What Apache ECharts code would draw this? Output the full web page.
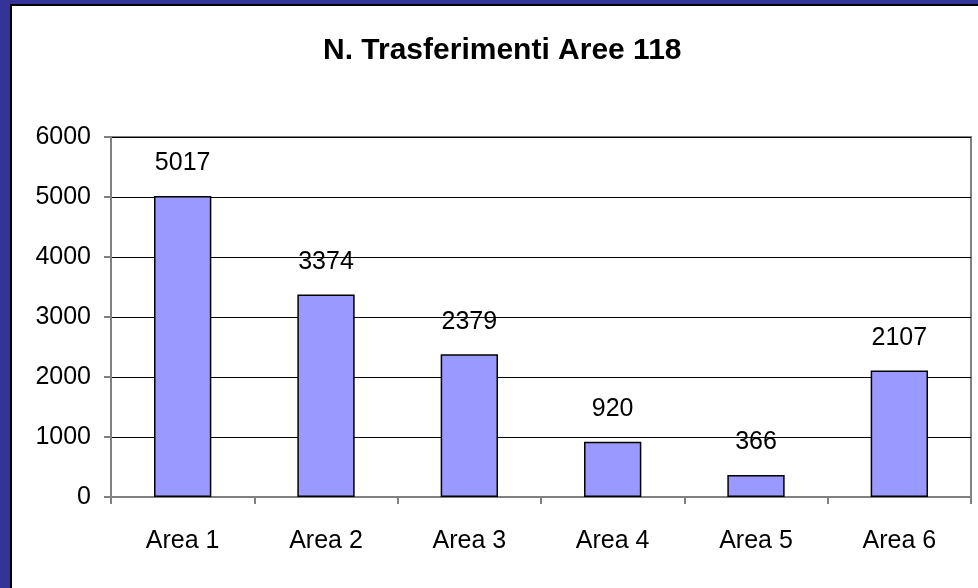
<!DOCTYPE html>
<html><head><meta charset="utf-8">
<script src="https://cdn.jsdelivr.net/npm/echarts@6/dist/echarts.min.js"></script>
<style>html,body{margin:0;padding:0;background:#fff}#c{width:978px;height:588px}</style>
</head><body><div id="c"></div>
<script>
const categories = ['Area 1','Area 2','Area 3','Area 4','Area 5','Area 6'];
const values = [5017, 3374, 2379, 920, 366, 2107];
const yTicks = [0, 1000, 2000, 3000, 4000, 5000, 6000];
const titleText = 'N. Trasferimenti Aree 118';

const chart = echarts.init(document.getElementById('c'), null, {renderer:'canvas'});
const font = '"Liberation Sans", Arial, sans-serif';
chart.setOption({
  animation:false,
  backgroundColor:'#ffffff',
  graphic:[
    {type:'rect', shape:{x:0,y:0,width:11,height:588}, style:{fill:'#333399'}, z:-10},
    {type:'rect', shape:{x:0,y:0,width:978,height:4}, style:{fill:'#333399'}, z:-10},
    {type:'rect', shape:{x:10,y:4,width:2,height:584}, style:{fill:'#000'}, z:-9},
    {type:'rect', shape:{x:10,y:4,width:968,height:2}, style:{fill:'#000'}, z:-9}
  ],
  title:{text:titleText, left:318, top:31,
    textStyle:{fontFamily:font, fontSize:30, fontWeight:'bold', color:'#000'}},
  grid:{left:111, right:7, top:137, bottom:91, show:true, borderColor:'#808080', borderWidth:2, backgroundColor:'transparent'},
  xAxis:{type:'category', data:categories,
    axisLine:{lineStyle:{color:'#808080', width:2}},
    axisTick:{show:true, length:7, lineStyle:{color:'#808080', width:2}},
    axisLabel:{color:'#000', fontFamily:font, fontSize:25, margin:32}},
  yAxis:{type:'value', min:yTicks[0], max:yTicks[yTicks.length-1], interval:1000,
    axisLine:{show:true, lineStyle:{color:'#808080', width:2}},
    axisTick:{show:true, length:7, lineStyle:{color:'#808080', width:2}},
    splitLine:{lineStyle:{color:'#000', width:1}},
    axisLabel:{color:'#000', fontFamily:font, fontSize:25, margin:20, formatter:v => String(v)}},
  series:[{type:'bar', data:values, barCategoryGap:'60%',
    itemStyle:{color:'#9999ff', borderColor:'#000', borderWidth:1.5},
    label:{show:true, position:'top', distance:20, color:'#000', fontFamily:font, fontSize:25}}]
});
</script></body></html>
